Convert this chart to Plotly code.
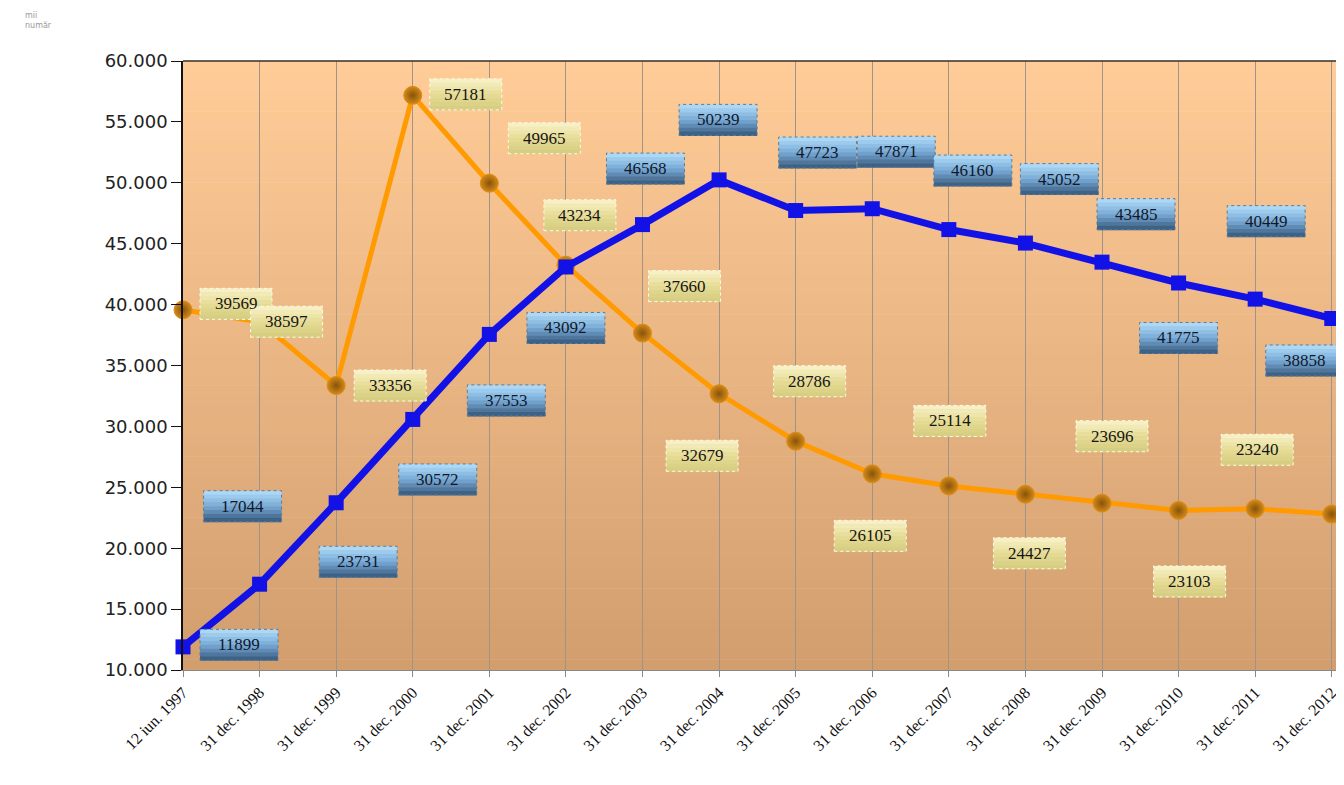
import plotly.graph_objects as go

categories = ["12 iun. 1997", "31 dec. 1998", "31 dec. 1999", "31 dec. 2000", "31 dec. 2001",
              "31 dec. 2002", "31 dec. 2003", "31 dec. 2004", "31 dec. 2005", "31 dec. 2006",
              "31 dec. 2007", "31 dec. 2008", "31 dec. 2009", "31 dec. 2010", "31 dec. 2011",
              "31 dec. 2012"]
blue_values = [11899, 17044, 23731, 30572, 37553, 43092, 46568, 50239, 47723, 47871,
               46160, 45052, 43485, 41775, 40449, 38858]
orange_values = [39569, 38597, 33356, 57181, 49965, 43234, 37660, 32679, 28786, 26105,
                 25114, 24427, 23696, 23103, 23240, 22800]
y_ticks = [10000, 15000, 20000, 25000, 30000, 35000, 40000, 45000, 50000, 55000, 60000]

# label offsets in pixels (dx right, dy down) relative to the point
blue_offsets = [(56, -2), (-17, -78), (22, 59), (25, 60), (17, 66), (0, 61), (3, -56), (-1, -60),
                (22, -58), (24, -57), (24, -59), (34, -64), (34, -48), (0, 55), (11, -78), (-27, 42)]
orange_offsets = [(53, -6), (27, 0), (54, 0), (53, -1), (55, -45), (14, -50), (42, -47), (-17, 62),
                  (14, -60), (-2, 62), (1, -65), (4, 59), (10, -67), (11, 71), (2, -59), None]

x_idx = list(range(len(categories)))

fig = go.Figure()


def lerp(a, b, t):
    return tuple(int(round(a[k] + (b[k] - a[k]) * t)) for k in range(3))


# background gradient stripes
n = 60
top = (255, 204, 152)
bot = (211, 158, 110)
shapes = []
for i in range(n):
    c = lerp(top, bot, i / (n - 1))
    shapes.append(dict(type="rect", xref="paper", yref="paper", x0=0, x1=1,
                       y0=1 - (i + 1) / n, y1=1 - i / n + 0.001,
                       fillcolor="rgb(%d,%d,%d)" % c, line=dict(width=0), layer="below"))
shapes.append(dict(type="line", xref="paper", yref="paper", x0=0, x1=1, y0=1, y1=1,
                   line=dict(color="#333", width=1.5)))

fig.add_trace(go.Scatter(x=x_idx, y=orange_values, mode="lines+markers",
                         line=dict(color="#FF9A00", width=5),
                         marker=dict(symbol="circle", size=18, color="#D08A1A",
                                     gradient=dict(type="radial", color="#8A5208"),
                                     line=dict(color="#E08A10", width=1)),
                         cliponaxis=False, showlegend=False))
fig.add_trace(go.Scatter(x=x_idx, y=blue_values, mode="lines+markers",
                         line=dict(color="#1212E6", width=7),
                         marker=dict(symbol="square", size=15, color="#1212E6"),
                         cliponaxis=False, showlegend=False))

BW, BH = 78, 31
blue_stops = [(172, 216, 246), (120, 170, 214), (62, 98, 134)]
orange_stops = [(246, 240, 196), (230, 220, 150), (214, 206, 130)]
ns = 8


def box(i, v, dx, dy, stops, w, border):
    out = []
    for s in range(ns):
        t = s / (ns - 1)
        if t < 0.5:
            c = lerp(stops[0], stops[1], t * 2)
        else:
            c = lerp(stops[1], stops[2], (t - 0.5) * 2)
        y_top = -dy + BH / 2 - s * BH / ns
        out.append(dict(type="rect", xref="x", yref="y", xsizemode="pixel", ysizemode="pixel",
                        xanchor=i, yanchor=v, x0=dx - w / 2, x1=dx + w / 2,
                        y0=y_top - BH / ns - 0.5, y1=y_top,
                        fillcolor="rgb(%d,%d,%d)" % c, line=dict(width=0), layer="above"))
    out.append(dict(type="rect", xref="x", yref="y", xsizemode="pixel", ysizemode="pixel",
                    xanchor=i, yanchor=v, x0=dx - w / 2, x1=dx + w / 2,
                    y0=-dy - BH / 2, y1=-dy + BH / 2,
                    fillcolor="rgba(0,0,0,0)", line=dict(color=border, width=1, dash="dot"),
                    layer="above"))
    return out


annotations = []
for i, v in enumerate(orange_values):
    off = orange_offsets[i]
    if off is None:
        continue
    shapes += box(i, v, off[0], off[1], orange_stops, 72, "#FFFBE8")
    annotations.append(dict(x=i, y=v, xref="x", yref="y", text=str(v), showarrow=False,
                            xshift=off[0], yshift=-off[1],
                            font=dict(family="Liberation Serif", size=17, color="#151515")))
for i, v in enumerate(blue_values):
    off = blue_offsets[i]
    shapes += box(i, v, off[0], off[1], blue_stops, BW, "#5A7C9C")
    annotations.append(dict(x=i, y=v, xref="x", yref="y", text=str(v), showarrow=False,
                            xshift=off[0], yshift=-off[1],
                            font=dict(family="Liberation Serif", size=17, color="#101828")))
annotations.append(dict(x=-0.138, y=1.085, xref="paper", yref="paper", text="mii<br>număr",
                        showarrow=False, xanchor="left", yanchor="top", align="left",
                        font=dict(family="DejaVu Sans", size=8, color="#999")))

fig.update_layout(
    width=1336, height=769,
    margin=dict(l=175, r=0, t=53, b=107),
    paper_bgcolor="white", plot_bgcolor="rgba(0,0,0,0)",
    separators=",.",
    shapes=shapes, annotations=annotations,
    xaxis=dict(range=[0, 15.16], tickmode="array", tickvals=x_idx, ticktext=categories,
               tickangle=-45, showgrid=True, gridcolor="#A09488", gridwidth=1,
               showline=True, linecolor="#888", ticks="outside", ticklen=6, tickcolor="#888",
               zeroline=False,
               tickfont=dict(family="Liberation Serif", size=16, color="#111")),
    yaxis=dict(range=[10000, 60000], tickvals=y_ticks, tickformat=",d", showgrid=False,
               showline=True, linecolor="#111", linewidth=1.5, ticks="outside", ticklen=10,
               tickcolor="#111", zeroline=False,
               tickfont=dict(family="DejaVu Sans", size=18, color="#222")),
)

fig.write_html("out.html")
